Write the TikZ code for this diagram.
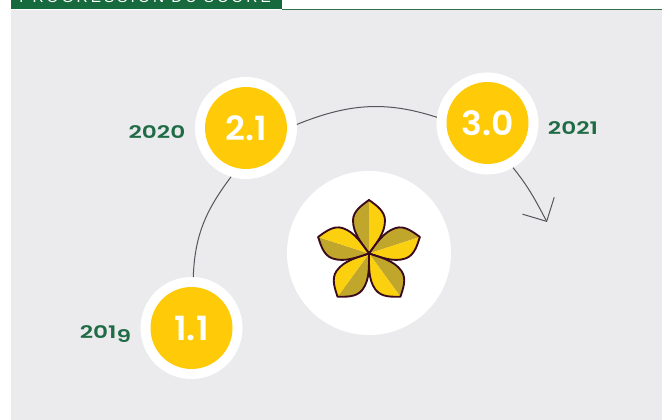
\documentclass[tikz,border=0pt]{standalone}
\usepackage{fontspec}
\usetikzlibrary{arrows.meta}
\setmainfont{Poppins}
\newfontfamily\headfont{Liberation Sans}
\newfontfamily\scorefont[FakeStretch=1.04]{Poppins SemiBold}
\newfontfamily\yearfont[FakeStretch=1.34]{Poppins SemiBold}
\definecolor{hgreen}{HTML}{176A3E}
\definecolor{ygreen}{HTML}{1F6B45}
\definecolor{panel}{HTML}{EBEBED}
\definecolor{gold}{HTML}{FFCB08}
\definecolor{petalA}{HTML}{FAD00F}
\definecolor{petalB}{HTML}{C1A62C}
\definecolor{petalL}{HTML}{3A0B1E}
\definecolor{arcc}{HTML}{55555A}
\tikzset{
  x=0.75pt,y=-0.75pt,
  ring/.style={circle,fill=white,minimum size=76.5pt,inner sep=0pt,outer sep=0pt},
  score/.style={circle,fill=gold,minimum size=61.5pt,inner sep=0pt,text=white,font=\fontsize{25}{25}\scorefont},
  yearlab/.style={text=ygreen,font=\fontsize{13}{13}\yearfont,inner sep=0pt},
  arcline/.style={draw=arcc,line width=0.75pt},
}
\begin{document}
\begin{tikzpicture}
\useasboundingbox (0,0) rectangle (662,420);
\fill[panel] (11,10) rectangle (662,420);
\fill[hgreen] (11,0) rectangle (282,9);
\draw[hgreen!75!gray,line width=0.7pt] (282,9.3) -- (662,9.3);
\node[anchor=base west,text=white,inner sep=0pt] (head) at (19,2.5) {\headfont\fontsize{11.5}{12}\selectfont\addfontfeature{LetterSpace=20}PROGRESSION DU SCORE};
% centre
\node[circle,fill=white,minimum size=123pt,inner sep=0pt] (centre) at (369,253) {};
\begin{scope}[shift={(369,253.5)}]
\foreach \a in {0,72,144,216,288}{
  \begin{scope}[rotate=-\a]
    \fill[petalB] (0,0) .. controls (-7,-10) and (-16,-20) .. (-16,-33) .. controls (-16,-43) and (-6,-49) .. (0,-53.5) -- cycle;
    \fill[petalA] (0,0) .. controls (7,-10) and (16,-20) .. (16,-33) .. controls (16,-43) and (6,-49) .. (0,-53.5) -- cycle;
    \draw[petalL,line width=1.4pt,line join=round] (0,0) .. controls (-7,-10) and (-16,-20) .. (-16,-33) .. controls (-16,-43) and (-6,-49) .. (0,-53.5) .. controls (6,-49) and (16,-43) .. (16,-33) .. controls (16,-20) and (7,-10) .. (0,0) -- cycle;
  \end{scope}
}
\end{scope}
% scores
\node[ring] (r19) at (191.5,328) {};
\node[score] (s19) at (191.5,328) {1.1};
\node[ring] (r20) at (246,128) {};
\node[score] (s20) at (246,128) {2.1};
\node[ring] (r21) at (487.5,123.5) {};
\node[score] (s21) at (487.5,123) {3.0};
\node[yearlab,anchor=base] (y19) at (105.5,338.5) {201\raisebox{-3pt}{9}};
\node[yearlab,anchor=base] (y20) at (157,138.5) {2020};
\node[yearlab,anchor=base] (y21) at (573,134.5) {2021};
% arcs
\coordinate (tip) at (547,222);
\draw[arcline] (r19.88) to[out=88,in=233] (r20.253);
\draw[arcline] (r20.4) to[out=22,in=162] (r21.173);
\draw[arcline,-{Straight Barb[length=13.3pt,width=27pt,line width=0.75pt]}] (r21.-60) to[out=-51,in=118] (tip);
\end{tikzpicture}
\end{document}
